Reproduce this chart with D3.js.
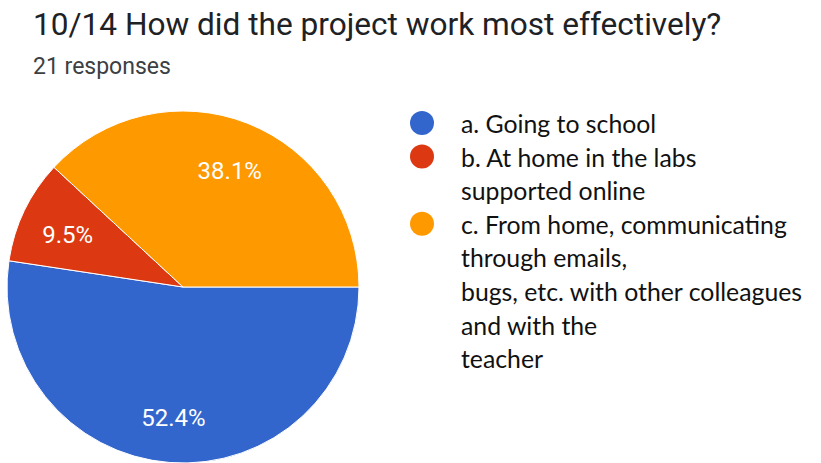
<!DOCTYPE html>
<html>
<head>
<meta charset="utf-8">
<script src="https://cdn.jsdelivr.net/npm/d3@7"></script>
<style>
  body { margin: 0; background: #fff; }
</style>
</head>
<body>
<div id="chart"></div>
<script>

var categories = ["a. Going to school", "b. At home in the labs supported online", "c. From home, communicating through emails, bugs, etc. with other colleagues and with the teacher"];
// legend lines as they wrap in the picture
var legendLines = [
	["a. Going to school"],
	["b. At home in the labs", "supported online"],
	["c. From home, communicating", "through emails,", "bugs, etc. with other colleagues", "and with the", "teacher"]
];
var counts = [11, 2, 8];
var colors = ["#3366cc", "#dc3912", "#ff9900"];

var w = 821;
var h = 463;

var svg = d3.select("#chart")
			.append("svg")
			.attr("width", w)
			.attr("height", h);

// title
svg.append("text")
	.attr("x", 33)
	.attr("y", 35)
	.attr("font-family", "Roboto")
	.attr("font-size", 31.6)
	.attr("fill", "#202124")
	.text("10/14 How did the project work most effectively?");

svg.append("text")
	.attr("x", 33)
	.attr("y", 74)
	.attr("font-family", "Roboto")
	.attr("font-size", 23)
	.attr("fill", "#3c4043")
	.text("21 responses");

var cx = 183, cy = 287, radius = 176;
var total = d3.sum(counts);

var pie = d3.pie()
			.sort(null)
			.startAngle(Math.PI / 2)
			.endAngle(Math.PI / 2 + 2 * Math.PI);

var arc = d3.arc().innerRadius(0).outerRadius(radius);
var labelArc = d3.arc().innerRadius(128).outerRadius(128);

var g = svg.append("g")
			.attr("transform", "translate(" + cx + "," + cy + ")");

var slices = g.selectAll("path")
			.data(pie(counts))
			.enter()
			.append("path")
			.attr("d", arc)
			.attr("fill", function(d, i){ return colors[i]; })
			.attr("stroke", "#fff")
			.attr("stroke-width", 1);

g.selectAll("text")
	.data(pie(counts))
	.enter()
	.append("text")
	.attr("transform", function(d){
		var c = labelArc.centroid(d);
		return "translate(" + c[0] + "," + (c[1] + 3) + ")";
	})
	.attr("text-anchor", "middle")
	.attr("dy", "0.35em")
	.attr("font-family", "Roboto")
	.attr("font-size", 24)
	.attr("fill", "#fff")
	.text(function(d){
		return (d.data / total * 100).toFixed(1) + "%";
	});

// legend
var lineH = 33.6;
var lx = 461, ly = 133;
var row = 0;
legendLines.forEach(function(lines, i){
	svg.append("circle")
		.attr("cx", 422)
		.attr("cy", ly + row * lineH - 10)
		.attr("r", 12)
		.attr("fill", colors[i]);
	lines.forEach(function(t){
		svg.append("text")
			.attr("x", lx)
			.attr("y", ly + row * lineH)
			.attr("font-family", "Lato")
			.attr("font-size", 24.8)
			.attr("fill", "#111")
			.text(t);
		row++;
	});
});

</script>
</body>
</html>
